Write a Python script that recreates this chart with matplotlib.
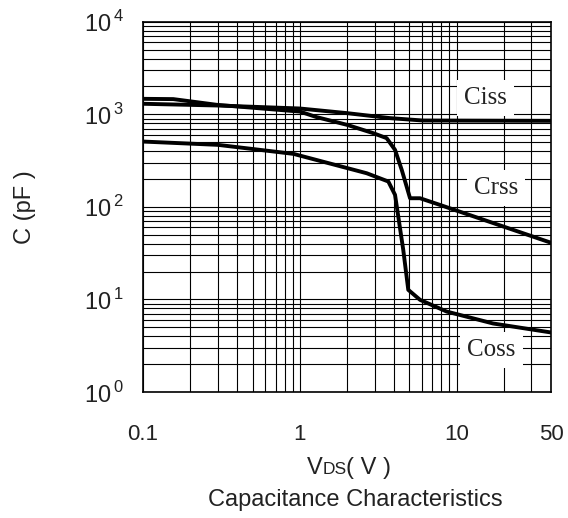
import matplotlib.pyplot as plt
from matplotlib.ticker import LogLocator, NullFormatter
from matplotlib.offsetbox import TextArea, HPacker, AnchoredOffsetbox

plt.rcParams['font.family'] = ['Liberation Sans', 'DejaVu Sans']
plt.rcParams['mathtext.fontset'] = 'custom'
plt.rcParams['mathtext.rm'] = 'Liberation Sans'

# 曲线数据 (VDS, C)
ciss_v = [0.1, 0.3, 1.0, 2.0, 3.76, 6.1, 40]
ciss_c = [1300, 1245, 1156, 1030, 910, 857, 850]

crss_v = [0.1, 0.156, 0.295, 1.0, 1.28, 2.0, 2.94, 3.58, 4.05, 4.47, 5.05, 5.85, 7.84, 40]
crss_c = [1470, 1460, 1267, 1071, 933, 770, 626, 553, 413, 251, 124, 124, 105, 41]

coss_v = [0.1, 0.3, 0.91, 2.67, 3.67, 4.05, 4.57, 4.92, 5.85, 8.65, 17.1, 40]
coss_c = [508, 468, 374, 231, 188, 135, 34.3, 12.7, 9.9, 7.4, 5.5, 4.4]

x_ticks = [0.1, 1, 10, 40]
x_labels = ['0.1', '1', '10', '50']
y_ticks = [1, 10, 100, 1000, 10000]
y_labels = [r'10$^{\,0}$', r'10$^{\,1}$', r'10$^{\,2}$', r'10$^{\,3}$', r'10$^{\,4}$']

txt = '#222222'

fig = plt.figure(figsize=(5.68, 5.18), dpi=100)
ax = fig.add_axes([0.2518, 0.2432, 0.7182, 0.7148])

for v, c in [(ciss_v, ciss_c), (crss_v, crss_c), (coss_v, coss_c)]:
    ax.plot(v, c, color='black', lw=2.8, solid_joinstyle='round', zorder=3)

ax.set_xscale('log')
ax.set_yscale('log')
ax.set_xlim(0.1, 40)
ax.set_ylim(1, 10000)

ax.xaxis.set_minor_locator(LogLocator(base=10, subs=range(2, 10)))
ax.yaxis.set_minor_locator(LogLocator(base=10, subs=range(2, 10)))
ax.xaxis.set_minor_formatter(NullFormatter())
ax.yaxis.set_minor_formatter(NullFormatter())
ax.set_xticks(x_ticks)
ax.set_xticklabels(x_labels)
ax.set_yticks(y_ticks)
ax.set_yticklabels(y_labels)
ax.tick_params(which='both', length=0, colors=txt)
ax.tick_params(axis='x', pad=23, labelsize=16)
ax.tick_params(axis='y', pad=14, labelsize=17)

ax.grid(True, which='both', color='black', lw=0.8)
for s in ax.spines.values():
    s.set_linewidth(1.2)

# 曲线标注
box = dict(facecolor='white', edgecolor='none', pad=5)
for x, y, name in [(15.2, 1500, 'Ciss'), (17.8, 160, 'Crss'), (16.7, 2.85, 'Coss')]:
    ax.text(x, y, name, family='Liberation Serif', fontsize=18, color=txt,
            ha='center', va='center', bbox=box, zorder=4)

ax.set_ylabel('C (pF )', fontsize=17, color=txt, labelpad=34)

# VDS(V) 轴标题：DS 字号较小，基线对齐
parts = [TextArea('V', textprops=dict(fontsize=17, color=txt)),
         TextArea('DS', textprops=dict(fontsize=12.5, color=txt)),
         TextArea('( V )', textprops=dict(fontsize=17, color=txt))]
pack = HPacker(children=parts, align='baseline', pad=0, sep=0)
anch = AnchoredOffsetbox(loc='center', child=pack, frameon=False,
                         bbox_to_anchor=(349 / 568, 1 - 468 / 518),
                         bbox_transform=fig.transFigure, borderpad=0)
fig.add_artist(anch)

fig.text(355 / 568, 1 - 500 / 518, 'Capacitance Characteristics', fontsize=17,
         color=txt, ha='center', va='center')

plt.savefig('out.png', dpi=100)
